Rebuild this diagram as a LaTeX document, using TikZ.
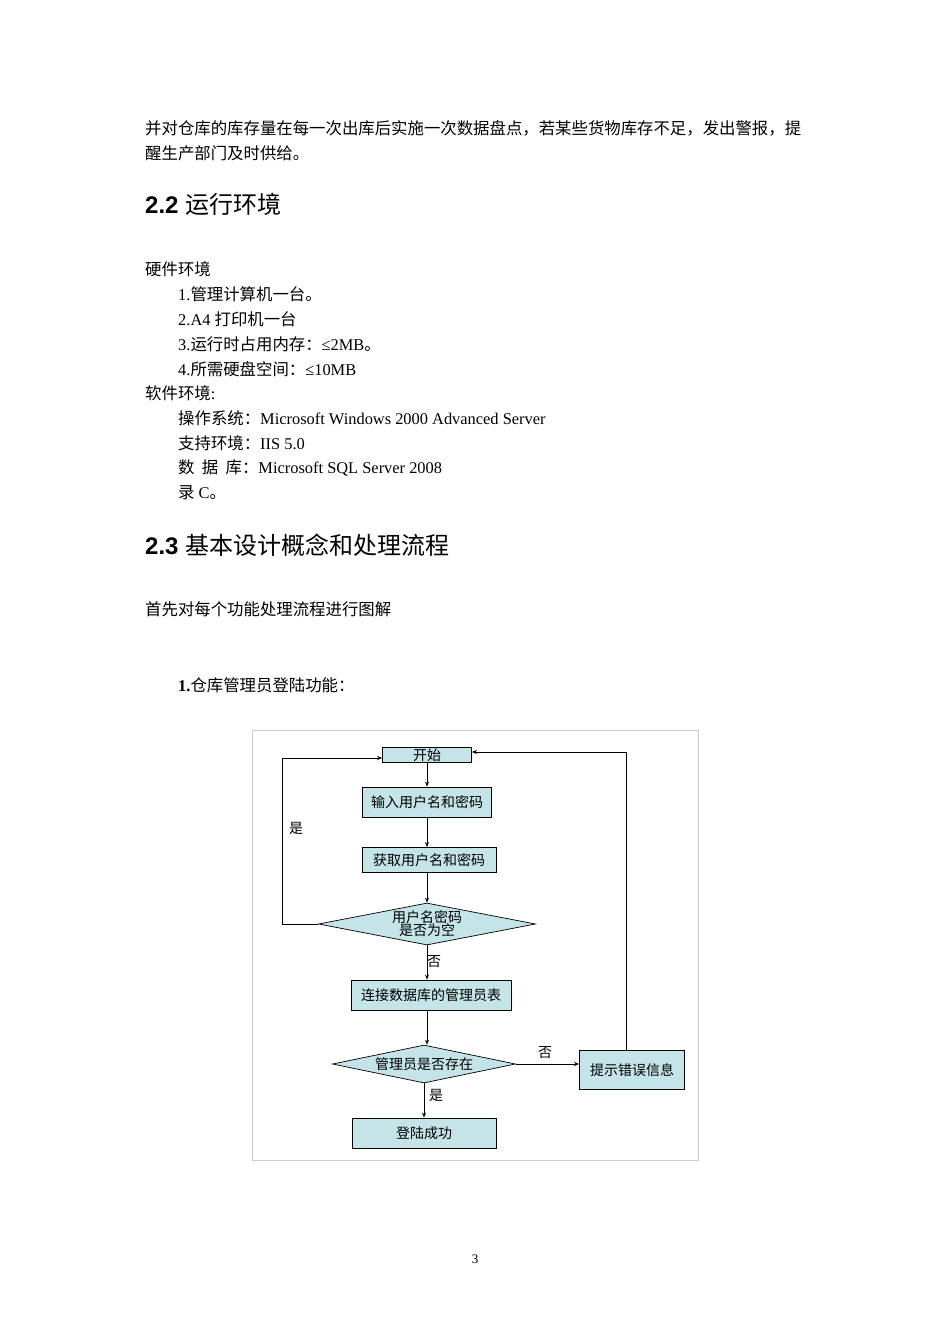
\documentclass[tikz,border=0pt]{standalone}
\usepackage{fontspec}
\setmainfont{Liberation Serif}
\newfontfamily\cjk{Noto Sans CJK SC}
\newfontfamily\hd{Liberation Sans}
\usetikzlibrary{shapes.geometric,arrows.meta}
\definecolor{boxfill}{RGB}{196,228,232}
\begin{document}
\begin{tikzpicture}[x=1pt,y=-1pt,
  txt/.style={anchor=west,inner sep=0pt,font=\fontsize{16.4}{18}\selectfont},
  head/.style={anchor=west,inner sep=0pt,font=\fontsize{24}{26}\selectfont},
  box/.style={draw,fill=boxfill,line width=0.9pt,inner sep=0pt,font=\cjk\fontsize{14}{15}\selectfont},
  dia/.style={draw,fill=boxfill,line width=0.7pt,diamond,aspect=5,inner sep=0pt,font=\cjk\fontsize{14}{15}\selectfont,align=center},
  arr/.style={draw,line width=0.7pt,-{Stealth[length=5pt,width=4pt]}},
  lab/.style={inner sep=0pt,font=\cjk\fontsize{14}{15}\selectfont}]
\useasboundingbox (0,0) rectangle (950,1344);
\fill[white] (0,0) rectangle (950,1344);
% text
\node[txt] (t1) at (145,128) {\cjk 并对仓库的库存量在每一次出库后实施一次数据盘点，若某些货物库存不足，发出警报，提};
\node[txt] (t2) at (145,153) {\cjk 醒生产部门及时供给。};
\node[head] (h1) at (145,204) {\hd\bfseries 2.2 {\cjk\mdseries 运行环境}};
\node[txt] (t3) at (145,269) {\cjk 硬件环境};
\node[txt] (t4) at (178,294) {1.{\cjk 管理计算机一台。}};
\node[txt] (t5) at (178,319) {2.A4 {\cjk 打印机一台}};
\node[txt] (t6) at (178,344) {3.{\cjk 运行时占用内存：}≤2MB{\cjk 。}};
\node[txt] (t7) at (178,369) {4.{\cjk 所需硬盘空间：}≤10MB};
\node[txt] (t8) at (145,393) {{\cjk 软件环境}:};
\node[txt] (t9) at (178,418) {{\cjk 操作系统：}Microsoft Windows 2000 Advanced Server};
\node[txt] (t10) at (178,443) {{\cjk 支持环境：}IIS 5.0};
\node[txt] (t11) at (178,468) {{\cjk 数\ \ 据\ \ 库：}Microsoft SQL Server 2008};
\node[txt] (t12) at (178,493) {{\cjk 录} C{\cjk 。}};
\node[head] (h2) at (145,545) {\hd\bfseries 2.3 {\cjk\mdseries 基本设计概念和处理流程}};
\node[txt] (t13) at (145,609) {\cjk 首先对每个功能处理流程进行图解};
\node[txt] (t14) at (178,685) {\textbf{1.}{\cjk 仓库管理员登陆功能：}};
\node[inner sep=0pt,font=\fontsize{13}{15}\selectfont] (pg) at (475,1259) {3};
% frame
\draw[black!20,line width=0.8pt] (252,730) rectangle (698,1160);
% flowchart
\node[box,minimum width=89pt,minimum height=15pt] (s) at (427,755) {开始};
\node[box,minimum width=129pt,minimum height=30pt] (in) at (427,802) {输入用户名和密码};
\node[box,minimum width=134pt,minimum height=25pt] (get) at (429,860) {获取用户名和密码};
\node[dia,minimum width=217pt,minimum height=42pt] (d1) at (427,924) {用户名密码\\[-2pt]是否为空};
\node[box,minimum width=160pt,minimum height=30pt] (con) at (431,995) {连接数据库的管理员表};
\node[dia,minimum width=183pt,minimum height=38pt] (d2) at (424,1064) {管理员是否存在};
\node[box,minimum width=105pt,minimum height=39pt] (err) at (632,1070) {提示错误信息};
\node[box,minimum width=144pt,minimum height=30pt] (ok) at (424,1133) {登陆成功};
\coordinate (lt) at (282,758);
\coordinate (rt) at (626,752);
\draw[arr] (s) -- (in);
\draw[arr] (in) -- (in |- get.north);
\draw[arr] (d1 |- get.south) -- (d1);
\draw[arr] (d1) -- (d1 |- con.north);
\draw[arr] (d1 |- con.south) -- (d1 |- d2.north);
\draw[arr] (d2) -- (d2 |- ok.north);
\draw[arr] (d2.east) -- (err.west |- d2.east);
\draw[arr] (d1.west) -| (lt) -- (s.west |- lt);
\draw[arr] (err.north -| rt) -- (rt) -- (s.east |- rt);
\node[lab] (l1) at (296,828) {是};
\node[lab] (l2) at (434,962) {否};
\node[lab] (l3) at (545,1053) {否};
\node[lab] (l4) at (436,1095) {是};
\end{tikzpicture}
\end{document}
